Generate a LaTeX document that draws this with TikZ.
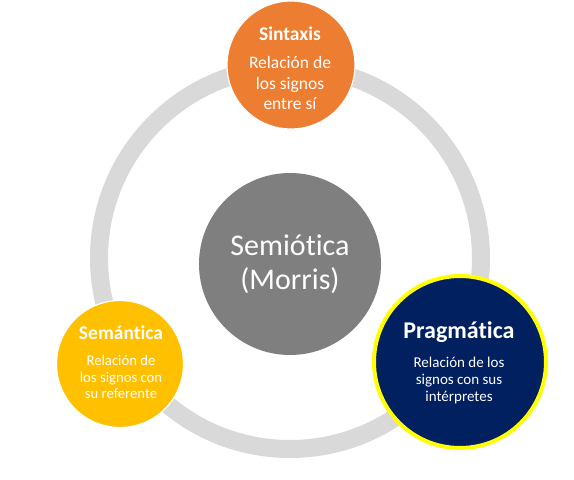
\documentclass[tikz,border=0pt]{standalone}
\usepackage{fontspec}
\setmainfont[Ligatures={NoCommon}]{Carlito}
\definecolor{ringgray}{HTML}{D9D9D9}
\definecolor{centergray}{HTML}{7F7F7F}
\definecolor{orangeS}{HTML}{ED7D31}
\definecolor{yellowS}{HTML}{FFC000}
\definecolor{navyP}{HTML}{002060}
\definecolor{brightyellow}{HTML}{FFFF00}
\tikzset{
  disc/.style={circle, inner sep=0pt, draw=white, line width=1.2pt},
  txt/.style={text=white, align=center, inner sep=0pt},
}
\begin{document}
\begin{tikzpicture}[x=1pt, y=-1pt]
\useasboundingbox (0,0) rectangle (574,480);
\fill[white] (0,0) rectangle (574,480);
% ring
\node[circle, draw=ringgray, line width=18pt, minimum size=382pt, inner sep=0pt] (ring) at (290,258) {};
% center
\node[disc, fill=centergray, draw=none, minimum size=182pt] (center) at (290,264) {};
\node[txt, font=\fontsize{30}{34}\selectfont] (centert) at (290,264) {Semiótica\\(Morris)};
% Sintaxis
\node[disc, fill=orangeS, minimum size=128pt] (sin) at (291,65) {};
\node[txt, font=\bfseries\fontsize{19.5}{22}\selectfont] (sint) at (290,34) {Sintaxis};
\node[txt, font=\fontsize{17.5}{20.5}\selectfont] (sinb) at (290,83) {Relación de\\los signos\\entre sí};
% Semantica
\node[disc, fill=yellowS, minimum size=127pt] (sem) at (120,364) {};
\node[txt, font=\bfseries\fontsize{19.5}{22}\selectfont] (semt) at (121,333) {Semántica};
\node[txt, font=\fontsize{14.7}{16.5}\selectfont] (semb) at (121,377) {Relación de\\los signos con\\su referente};
% Pragmatica
\node[circle, inner sep=0pt, fill=navyP, draw=brightyellow, line width=4pt, minimum size=172pt] (prag) at (460,362) {};
\node[txt, font=\bfseries\fontsize{24}{27}\selectfont] (pragt) at (459,332) {Pragmática};
\node[txt, font=\fontsize{15}{17}\selectfont] (pragb) at (459,380) {Relación de los\\signos con sus\\intérpretes};
\end{tikzpicture}
\end{document}
